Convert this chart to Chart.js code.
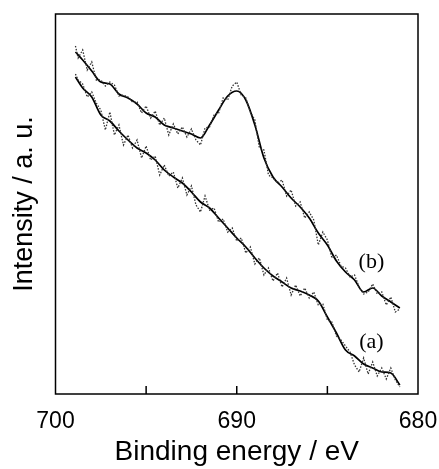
<!DOCTYPE html>
<html>
<head>
<meta charset="utf-8">
<script src="https://cdn.jsdelivr.net/npm/chart.js@4/dist/chart.umd.min.js"></script>
<style>
html,body{margin:0;padding:0;background:#fff;}
#wrap{width:439px;height:469px;position:relative;}
</style>
</head>
<body>
<div id="wrap"><canvas id="c"></canvas></div>
<script>
// Binding energy grid for the smoothed curves (eV)
const smoothEnergy = [698.9,698.5,698,697.5,697,696.5,696,695.5,695,694.5,694,693.5,693,692.5,692,691.5,691,690.5,690,689.5,689,688.5,688,687.5,687,686.5,686,685.5,685,684.5,684,683.5,683,682.5,682,681.5,681];
// Smoothed intensity (a. u.)
const smoothA = [317,306,297,279,273,263,254,246,241,234,224,217,211,202,192,186,176,166,156,147,136,126,118,112,106,103,99,93,77,61,44,38,30,26,22,21,9];
const smoothB = [342,334,323,312,310,300,296,290,281,277,269,266,263,260,256,269,284,298,303,294,269,236,217,207,196,187,176,161,149,133,122,114,102,106,98,92,86];

// Binding energy grid for raw (noisy) spectra (eV)
const rawEnergy = [698.9,698.75,698.5,698.25,698,697.75,697.5,697.25,697,696.75,696.5,696.25,696,695.75,695.5,695.25,695,694.75,694.5,694.25,694,693.75,693.5,693.25,693,692.75,692.5,692.25,692,691.75,691.5,691.25,691,690.75,690.5,690.25,690,689.75,689.5,689.25,689,688.75,688.5,688.25,688,687.75,687.5,687.25,687,686.75,686.5,686.25,686,685.75,685.5,685.25,685,684.75,684.5,684.25,684,683.75,683.5,683.25,683,682.75,682.5,682.25,682,681.75,681.5,681.25,681];
const rawA = [320,314,310,297,302,291,284,264,282,259,269,249,259,246,254,236,248,234,238,219,229,218,222,206,216,199,208,189,182,198,184,186,172,175,162,166,153,156,141,147,130,136,119,126,113,121,107,116,99,109,98,106,96,102,89,90,74,72,58,54,48,42,29,22,36,20,32,18,26,15,26,14,7];
const rawB = [348,336,344,324,332,314,314,308,312,309,298,299,297,292,292,281,288,276,283,269,276,259,270,260,267,257,265,254,249,266,267,279,281,296,294,308,312,299,296,282,274,246,244,219,216,211,214,198,204,188,192,176,182,174,149,162,154,136,139,128,126,117,119,107,100,102,110,100,102,89,97,82,85];

// Tick labels / marks
const xTickLabels = [700, 690, 680];
const xTickMarks = [695, 690, 685];

// Curve labels
const curveLabels = [
  {text: '(b)', x: 682.57, y: 132},
  {text: '(a)', x: 682.57, y: 52}
];

function pts(xs, ys){ return xs.map((x,i)=>({x:x, y:ys[i]})); }

const framePlugin = {
  id: 'frame',
  afterDatasetsDraw(chart){
    const {ctx, chartArea:a, scales} = chart;
    ctx.save();
    ctx.strokeStyle = '#000';
    ctx.lineWidth = 1.5;
    ctx.strokeRect(a.left, a.top, a.right - a.left, a.bottom - a.top);
    ctx.beginPath();
    xTickMarks.forEach(v=>{
      const px = scales.x.getPixelForValue(v);
      ctx.moveTo(px, a.bottom);
      ctx.lineTo(px, a.bottom - 8);
    });
    ctx.stroke();
    ctx.fillStyle = '#000';
    ctx.font = '22px "Liberation Serif", "Times New Roman", serif';
    ctx.textAlign = 'center';
    ctx.textBaseline = 'middle';
    curveLabels.forEach(l=>{
      ctx.fillText(l.text, scales.x.getPixelForValue(l.x), scales.y.getPixelForValue(l.y));
    });
    ctx.restore();
  }
};

new Chart(document.getElementById('c'), {
  type: 'line',
  data: {
    datasets: [
      {data: pts(rawEnergy, rawB), borderColor:'#333', borderWidth:1.3, borderDash:[1.5,1.5], pointRadius:0, tension:0},
      {data: pts(rawEnergy, rawA), borderColor:'#333', borderWidth:1.3, borderDash:[1.5,1.5], pointRadius:0, tension:0},
      {data: pts(smoothEnergy, smoothB), borderColor:'#000', borderWidth:1.7, pointRadius:0, tension:0.4, cubicInterpolationMode:'monotone'},
      {data: pts(smoothEnergy, smoothA), borderColor:'#000', borderWidth:1.7, pointRadius:0, tension:0.4, cubicInterpolationMode:'monotone'}
    ]
  },
  options: {
    responsive: true,
    maintainAspectRatio: false,
    animation: false,
    layout: {padding: {top: 14, right: 21, left: 0, bottom: 0}},
    plugins: {legend:{display:false}, tooltip:{enabled:false}},
    scales: {
      x: {
        type: 'linear', reverse: true, min: 680, max: 700,
        afterFit(s){ s.height = 75; s.paddingLeft = 0; s.paddingRight = 0; },
        afterBuildTicks(s){ s.ticks = xTickLabels.map(v=>({value:v})); },
        grid: {display:false, drawTicks:false},
        border: {display:false},
        ticks: {padding: 14, color:'#000', font:{family:'"Liberation Sans", Arial, sans-serif', size:23}, maxRotation:0, autoSkip:false},
        title: {display:true, text:'Binding energy / eV', color:'#000', padding:{top:0,bottom:0}, font:{family:'"Liberation Sans", Arial, sans-serif', size:28}}
      },
      y: {
        min: 0, max: 380,
        afterFit(s){ s.width = 55.5; s.paddingTop = 0; s.paddingBottom = 0; },
        grid: {display:false, drawTicks:false},
        border: {display:false},
        ticks: {display:false},
        title: {display:true, text:'Intensity / a. u.', color:'#000', padding:{top:8,bottom:0}, font:{family:'"Liberation Sans", Arial, sans-serif', size:27}}
      }
    }
  },
  plugins: [framePlugin]
});
</script>
</body>
</html>
